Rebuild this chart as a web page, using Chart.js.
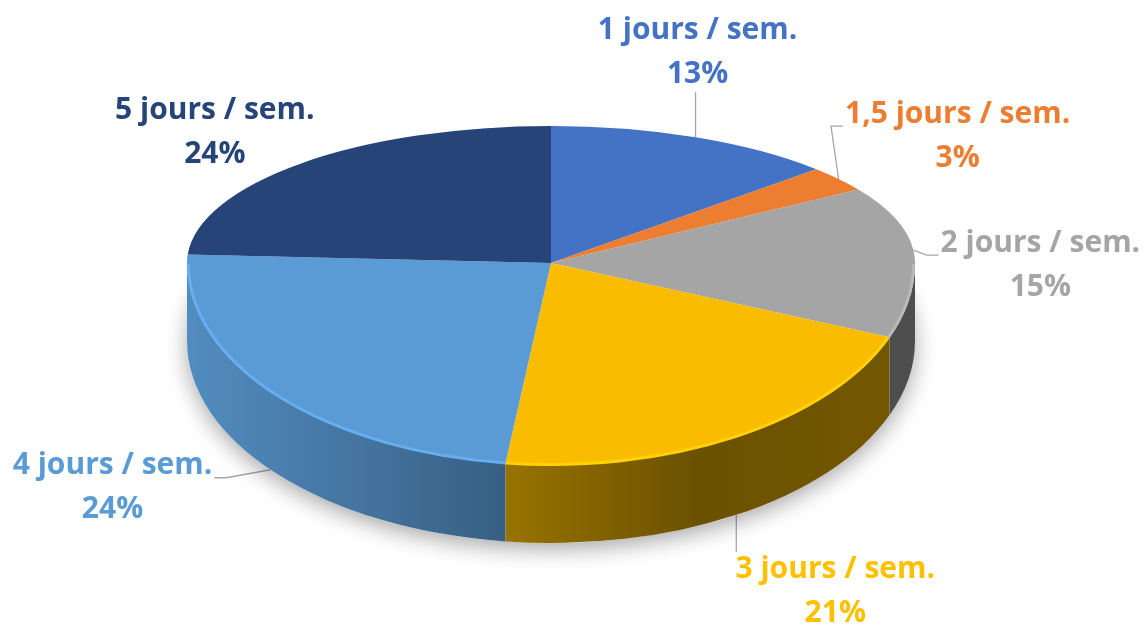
<!DOCTYPE html>
<html>
<head>
<meta charset="utf-8">
<script src="https://cdn.jsdelivr.net/npm/chart.js@4.4.0/dist/chart.umd.min.js"></script>
<style>
  html, body { margin: 0; padding: 0; background: #fff; }
  #wrap { width: 1148px; height: 629px; position: relative; }
</style>
</head>
<body>
<div id="wrap"><canvas id="myChart"></canvas></div>
<script>
const categories = ["1 jours / sem.", "1,5 jours / sem.", "2 jours / sem.", "3 jours / sem.", "4 jours / sem.", "5 jours / sem."]
const values = [13, 3, 15, 21, 24, 24]
const colors = ["#4472C4", "#ED7D31", "#A5A5A5", "#F9BC00", "#5B9BD5", "#264478"]
const labelColors = ["#4472C4", "#ED7D31", "#A5A5A5", "#FFC000", "#5B9BD5", "#264478"]
// label block centre, relative to the slice anchor on the rim
const labelOffsets = [[2, -85], [119, -43], [127, 15], [99, 77], [-158, 18], [-87, -31]]

// 3D look: half-width, back and front half-heights (fake perspective), wall depth
const RX = 364, RY_BACK = 137, RY_FRONT = 202, DEPTH = 78

const total = values.reduce((a, b) => a + b, 0)

function shade(hex, f) {
  const n = parseInt(hex.slice(1), 16)
  const c = v => Math.min(255, Math.round(v * f))
  return `rgb(${c((n >> 16) & 255)},${c((n >> 8) & 255)},${c(n & 255)})`
}

// anchor on the pie outline + label box for slice i
function labelGeom(ctx, arc, i, cx, cy) {
  const m = (arc.startAngle + arc.endAngle) / 2
  const sn = Math.sin(m)
  const ax = cx + RX * Math.cos(m)
  const ay = sn > 0 ? cy + RY_FRONT * sn + DEPTH : cy + RY_BACK * sn
  const lx = ax + labelOffsets[i][0], ly = ay + labelOffsets[i][1]
  const pct = Math.round(values[i] / total * 100) + "%"
  const w = Math.max(ctx.measureText(categories[i]).width, ctx.measureText(pct).width)
  return { ax, ay, lx, ly, pct, left: lx - w / 2, right: lx + w / 2, top: ly - 38, bottom: ly + 38 }
}

function squash(ctx, cx, cy, sx, sy) {
  ctx.translate(cx, cy)
  ctx.scale(sx, sy)
  ctx.translate(-cx, -cy)
}

const pie3d = {
  id: "pie3d",
  beforeDatasetsDraw(chart) {
    const ctx = chart.ctx
    const arcs = chart.getDatasetMeta(0).data
    const cx = arcs[0].x, cy = arcs[0].y, r = arcs[0].outerRadius

    // leader lines go under the pie so they stop at its edge
    ctx.save()
    ctx.font = "bold 30px 'Open Sans'"
    ctx.strokeStyle = "#A6A6A6"
    ctx.lineWidth = 1.3
    arcs.forEach((arc, i) => {
      const L = labelGeom(ctx, arc, i, cx, cy)
      ctx.beginPath()
      if (L.ax >= L.left && L.ax <= L.right) {
        if (L.ay > L.bottom + 10) { ctx.moveTo(L.ax, L.ay); ctx.lineTo(L.ax, L.bottom + 2) }
        else if (L.ay < L.top - 10) { ctx.moveTo(L.ax, L.ay); ctx.lineTo(L.ax, L.top - 2) }
      } else if (L.ax < L.left) {
        ctx.moveTo(L.ax, L.ay); ctx.lineTo(L.left - 14, L.ly - 10); ctx.lineTo(L.left - 2, L.ly - 10)
      } else {
        ctx.moveTo(L.ax, L.ay); ctx.lineTo(L.right + 14, L.ly - 10); ctx.lineTo(L.right + 2, L.ly - 10)
      }
      ctx.stroke()
    })
    ctx.restore()

    // soft shadow under the pie
    ctx.save()
    ctx.shadowColor = "rgba(0,0,0,0.35)"
    ctx.shadowBlur = 22
    ctx.shadowOffsetY = 6
    ctx.fillStyle = "#fff"
    ctx.beginPath()
    ctx.ellipse(cx, cy + DEPTH, RX, RY_FRONT, 0, 0, Math.PI * 2)
    ctx.fill()
    ctx.restore()

    // front side walls
    arcs.forEach((arc, i) => {
      const s = Math.max(arc.startAngle, 0)
      const e = Math.min(arc.endAngle, Math.PI)
      if (e <= s) return
      const g = ctx.createLinearGradient(cx - RX, 0, cx + RX, 0)
      g.addColorStop(0, shade(colors[i], 0.9))
      g.addColorStop(0.4, shade(colors[i], 0.64))
      g.addColorStop(0.7, shade(colors[i], 0.43))
      g.addColorStop(1, shade(colors[i], 0.47))
      ctx.fillStyle = g
      ctx.beginPath()
      ctx.ellipse(cx, cy, RX, RY_FRONT, 0, s, e)
      ctx.ellipse(cx, cy + DEPTH, RX, RY_FRONT, 0, e, s, true)
      ctx.closePath()
      ctx.fill()
    })

    // back half of the top face (library draws the arcs)
    ctx.save()
    ctx.beginPath()
    ctx.rect(0, 0, chart.width, cy + 1)
    ctx.clip()
    squash(ctx, cx, cy, RX / r, RY_BACK / r)
  },
  afterDatasetsDraw(chart) {
    const ctx = chart.ctx
    ctx.restore()
    const meta = chart.getDatasetMeta(0)
    const arcs = meta.data
    const cx = arcs[0].x, cy = arcs[0].y, r = arcs[0].outerRadius

    // front half of the top face: same arcs, deeper squash
    ctx.save()
    ctx.beginPath()
    ctx.rect(0, cy, chart.width, chart.height - cy)
    ctx.clip()
    squash(ctx, cx, cy, RX / r, RY_FRONT / r)
    meta.controller.draw()
    ctx.restore()

    // bevel highlight on the front rim
    arcs.forEach((arc, i) => {
      const s = Math.max(arc.startAngle, 0)
      const e = Math.min(arc.endAngle, Math.PI)
      if (e <= s) return
      ctx.strokeStyle = shade(colors[i], 1.12)
      ctx.lineWidth = 3
      ctx.beginPath()
      ctx.ellipse(cx, cy + 1, RX - 1.5, RY_FRONT - 1.5, 0, s, e)
      ctx.stroke()
    })

    // data labels
    ctx.font = "bold 30px 'Open Sans'"
    ctx.textAlign = "center"
    ctx.textBaseline = "middle"
    arcs.forEach((arc, i) => {
      const L = labelGeom(ctx, arc, i, cx, cy)
      ctx.fillStyle = labelColors[i]
      ctx.fillText(categories[i], L.lx, L.ly - 22)
      ctx.fillText(L.pct, L.lx, L.ly + 22)
    })
  }
}

const ctx = document.getElementById("myChart").getContext("2d")
new Chart(ctx, {
  type: "pie",
  data: {
    labels: categories,
    datasets: [{
      data: values,
      backgroundColor: colors,
      borderWidth: 0,
      clip: false
    }]
  },
  options: {
    responsive: true,
    maintainAspectRatio: false,
    animation: false,
    events: [],
    layout: { padding: { left: 0, top: 0, right: 46, bottom: 103 } },
    plugins: { legend: { display: false }, tooltip: { enabled: false } }
  },
  plugins: [pie3d]
})
</script>
</body>
</html>
